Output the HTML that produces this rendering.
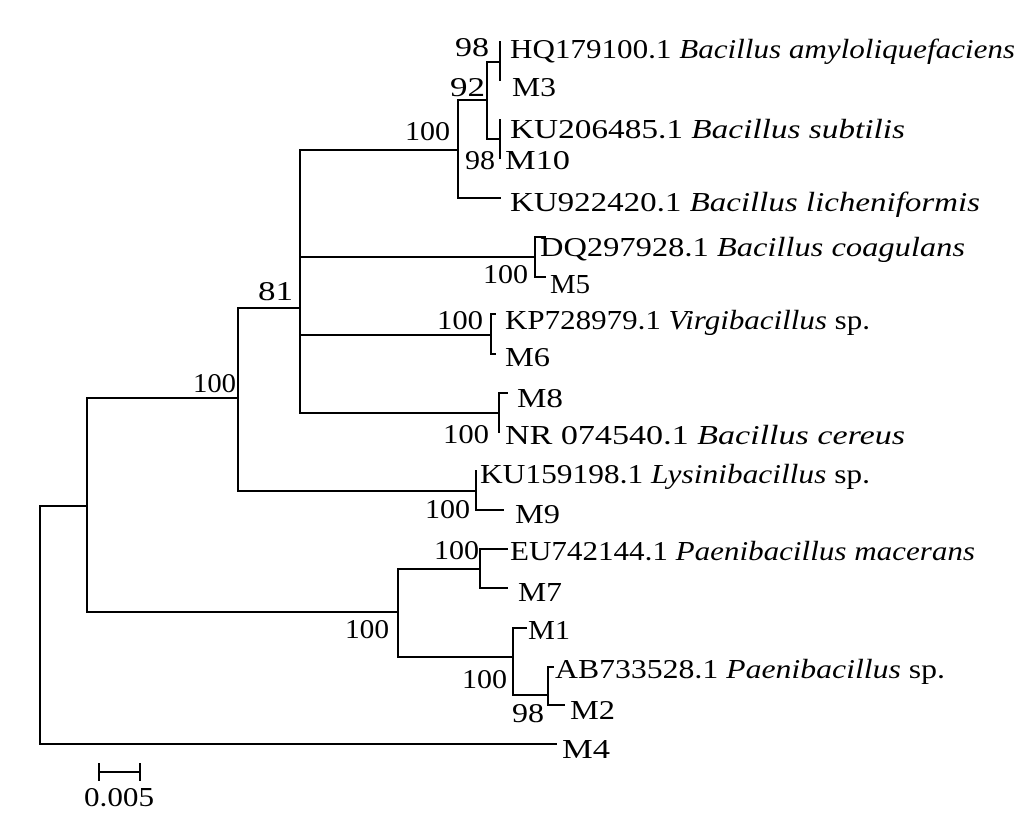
<!DOCTYPE html>
<html><head><meta charset="utf-8"><style>
html,body{margin:0;padding:0;background:#fff;}
svg{display:block;}
svg text{font-family:"Liberation Serif","Times New Roman",Times,serif;font-size:27px;fill:#000;}
</style></head><body>
<svg width="1029" height="817" viewBox="0 0 1029 817" xmlns="http://www.w3.org/2000/svg" font-family="Liberation Serif, Times New Roman, serif">
<g stroke="#000" stroke-width="2" fill="none" stroke-linecap="square">
<path d="M40 506 V744 H556"/>
<path d="M40 506 H87"/>
<path d="M87 398 V612"/>
<path d="M87 398 H238"/>
<path d="M87 612 H398"/>
<path d="M238 308 V491"/>
<path d="M238 308 H300"/>
<path d="M238 491 H476"/>
<path d="M300 150 V413"/>
<path d="M300 150 H458"/>
<path d="M300 257 H535"/>
<path d="M300 335 H491"/>
<path d="M300 413 H499"/>
<path d="M458 100 V198 H500"/>
<path d="M458 100 H487"/>
<path d="M487 62 V139"/>
<path d="M487 62 H500"/>
<path d="M487 139 H500"/>
<path d="M500 42 V80"/>
<path d="M500 120 V158"/>
<path d="M545 237 H535 V277 H545"/>
<path d="M495 314 H491 V354 H495"/>
<path d="M507 393 H499 V432"/>
<path d="M476 471 V510 H503"/>
<path d="M398 569 V657"/>
<path d="M398 569 H480"/>
<path d="M398 657 H513"/>
<path d="M507 549 H480 V588 H507"/>
<path d="M526 628 H513 V695 H548"/>
<path d="M553 667 H548 V705 H564"/>
<path d="M99 772 H140"/>
<path d="M99 764 V780"/>
<path d="M140 764 V780"/>
</g>
<text x="510" y="58" textLength="505" lengthAdjust="spacingAndGlyphs">HQ179100.1 <tspan font-style="italic">Bacillus amyloliquefaciens</tspan></text>
<text x="512" y="96" textLength="44" lengthAdjust="spacingAndGlyphs">M3</text>
<text x="510" y="138" textLength="395" lengthAdjust="spacingAndGlyphs">KU206485.1 <tspan font-style="italic">Bacillus subtilis</tspan></text>
<text x="505" y="169" textLength="65" lengthAdjust="spacingAndGlyphs">M10</text>
<text x="510" y="211" textLength="470" lengthAdjust="spacingAndGlyphs">KU922420.1 <tspan font-style="italic">Bacillus licheniformis</tspan></text>
<text x="540" y="256" textLength="425" lengthAdjust="spacingAndGlyphs">DQ297928.1 <tspan font-style="italic">Bacillus coagulans</tspan></text>
<text x="550" y="293" textLength="40" lengthAdjust="spacingAndGlyphs">M5</text>
<text x="505" y="329" textLength="365" lengthAdjust="spacingAndGlyphs">KP728979.1 <tspan font-style="italic">Virgibacillus</tspan> sp.</text>
<text x="505" y="366" textLength="45" lengthAdjust="spacingAndGlyphs">M6</text>
<text x="517" y="407" textLength="46" lengthAdjust="spacingAndGlyphs">M8</text>
<text x="505" y="444" textLength="400" lengthAdjust="spacingAndGlyphs">NR 074540.1 <tspan font-style="italic">Bacillus cereus</tspan></text>
<text x="480" y="483" textLength="390" lengthAdjust="spacingAndGlyphs">KU159198.1 <tspan font-style="italic">Lysinibacillus</tspan> sp.</text>
<text x="515" y="523" textLength="45" lengthAdjust="spacingAndGlyphs">M9</text>
<text x="510" y="560" textLength="465" lengthAdjust="spacingAndGlyphs">EU742144.1 <tspan font-style="italic">Paenibacillus macerans</tspan></text>
<text x="518" y="601" textLength="44" lengthAdjust="spacingAndGlyphs">M7</text>
<text x="528" y="639" textLength="42" lengthAdjust="spacingAndGlyphs">M1</text>
<text x="555" y="678" textLength="390" lengthAdjust="spacingAndGlyphs">AB733528.1 <tspan font-style="italic">Paenibacillus</tspan> sp.</text>
<text x="570" y="719" textLength="45" lengthAdjust="spacingAndGlyphs">M2</text>
<text x="562" y="758" textLength="48" lengthAdjust="spacingAndGlyphs">M4</text>
<text x="455" y="56" textLength="34" lengthAdjust="spacingAndGlyphs">98</text>
<text x="450" y="96" textLength="35" lengthAdjust="spacingAndGlyphs">92</text>
<text x="405" y="140" textLength="45" lengthAdjust="spacingAndGlyphs">100</text>
<text x="465" y="169" textLength="30" lengthAdjust="spacingAndGlyphs">98</text>
<text x="483" y="283" textLength="45" lengthAdjust="spacingAndGlyphs">100</text>
<text x="258" y="300" textLength="35" lengthAdjust="spacingAndGlyphs">81</text>
<text x="437" y="329" textLength="46" lengthAdjust="spacingAndGlyphs">100</text>
<text x="443" y="443" textLength="46" lengthAdjust="spacingAndGlyphs">100</text>
<text x="193" y="392" textLength="43" lengthAdjust="spacingAndGlyphs">100</text>
<text x="425" y="518" textLength="45" lengthAdjust="spacingAndGlyphs">100</text>
<text x="434" y="559" textLength="45" lengthAdjust="spacingAndGlyphs">100</text>
<text x="345" y="638" textLength="44" lengthAdjust="spacingAndGlyphs">100</text>
<text x="462" y="688" textLength="45" lengthAdjust="spacingAndGlyphs">100</text>
<text x="512" y="722" textLength="32" lengthAdjust="spacingAndGlyphs">98</text>
<text x="84" y="806" textLength="70" lengthAdjust="spacingAndGlyphs">0.005</text>
</svg>
</body></html>
